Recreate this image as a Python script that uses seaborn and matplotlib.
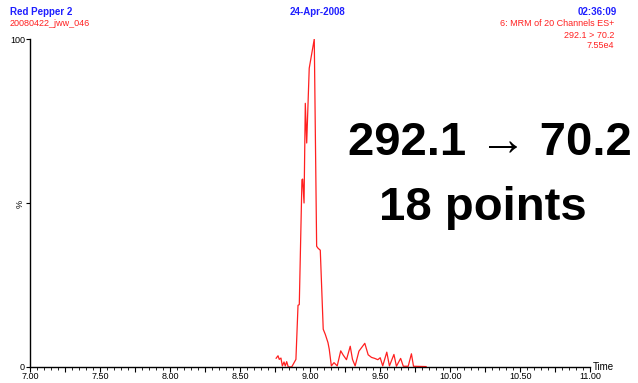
import numpy as np
import pandas as pd
import matplotlib
matplotlib.use("Agg")
import matplotlib.pyplot as plt
from matplotlib.ticker import MultipleLocator, FuncFormatter
import seaborn as sns

# retention time (min) and relative intensity (%)
time = [8.754, 8.768, 8.777, 8.789, 8.799, 8.811, 8.820, 8.830, 8.841, 8.866,
        8.896, 8.911, 8.920, 8.939, 8.944, 8.954, 8.963, 8.973, 8.991, 9.027,
        9.044, 9.054, 9.070, 9.091, 9.106, 9.125, 9.134, 9.149, 9.168, 9.191,
        9.216, 9.234, 9.257, 9.284, 9.300, 9.319, 9.346, 9.388, 9.412, 9.436,
        9.459, 9.481, 9.498, 9.516, 9.545, 9.564, 9.596, 9.614, 9.644, 9.663,
        9.698, 9.721, 9.736, 9.827]
intensity = [2.6, 3.4, 2.3, 2.7, 0.3, 1.5, 0.3, 1.6, 0.0, 0.0,
             2.3, 18.8, 19.0, 57.1, 57.3, 50.0, 80.4, 68.3, 91.1, 100.0,
             36.8, 36.2, 35.6, 11.5, 9.9, 7.4, 5.4, 0.3, 1.3, 0.3,
             4.9, 3.6, 2.2, 6.3, 2.3, 0.3, 4.8, 7.2, 3.7, 2.9,
             2.6, 2.2, 2.8, 0.3, 4.5, 0.3, 3.8, 0.2, 2.6, 0.2,
             0.2, 4.0, 0.2, 0.1]

y_ticks = [0, 50, 100]
y_labels = ["0", "%", "100"]

blue = "#1f1fff"
red = "#ff2020"

sns.set_style("ticks")
plt.rcParams["font.family"] = ["Liberation Sans", "DejaVu Sans"]
plt.rcParams["text.color"] = "black"
plt.rcParams["xtick.color"] = "black"
plt.rcParams["ytick.color"] = "black"
plt.rcParams["axes.edgecolor"] = "black"

df = pd.DataFrame({"Time": time, "Intensity": intensity})

fig = plt.figure(figsize=(6.38, 3.83), dpi=100)
ax = fig.add_axes([0.0478, 0.042, 0.8777, 0.856])
sns.lineplot(data=df, x="Time", y="Intensity", color=red, linewidth=0.9, ax=ax)

ax.set_xlim(7.0, 11.0)
ax.set_ylim(0, 100)
# long ticks every 0.25, labels every 0.5, short ticks every 0.05
ax.xaxis.set_major_locator(MultipleLocator(0.25))
ax.xaxis.set_major_formatter(FuncFormatter(lambda v, p: f"{v:.2f}" if abs(v * 2 - round(v * 2)) < 1e-6 else ""))
ax.xaxis.set_minor_locator(MultipleLocator(0.05))
ax.set_yticks(y_ticks)
ax.set_yticklabels(y_labels)
ax.get_yticklabels()[1].set_rotation(90)
ax.tick_params(axis="x", which="major", length=3.5, width=0.8, pad=0.5, labelsize=6.5)
ax.tick_params(axis="x", which="minor", length=2, width=0.6)
ax.tick_params(axis="y", length=3, width=0.8, pad=1, labelsize=6.5)
ax.set_xlabel("")
ax.set_ylabel("")
sns.despine(ax=ax)
ax.spines["left"].set_linewidth(1.0)
ax.spines["bottom"].set_linewidth(1.0)

# "Time" label at the end of the axis
ax.text(1.005, 0.0, "Time", transform=ax.transAxes, fontsize=7, ha="left", va="center")

# header texts
fig.text(10 / 638, 1 - 12 / 383, "Red Pepper 2", color=blue, fontsize=7, fontweight="bold", va="center")
fig.text(10 / 638, 1 - 24 / 383, "20080422_jww_046", color=red, fontsize=6.5, va="center")
fig.text(318 / 638, 1 - 12 / 383, "24-Apr-2008", color=blue, fontsize=7, fontweight="bold", ha="center", va="center")
fig.text(617 / 638, 1 - 12 / 383, "02:36:09", color=blue, fontsize=7, fontweight="bold", ha="right", va="center")
fig.text(614 / 638, 1 - 24 / 383, "6: MRM of 20 Channels ES+", color=red, fontsize=6.5, ha="right", va="center")
fig.text(614 / 638, 1 - 35 / 383, "292.1 > 70.2", color=red, fontsize=6.5, ha="right", va="center")
fig.text(614 / 638, 1 - 46 / 383, "7.55e4", color=red, fontsize=6.5, ha="right", va="center")

# big annotation
fig.text(490 / 638, 1 - 143 / 383, "292.1 \u2192 70.2", fontsize=34, fontweight="bold", color="black",
         ha="center", va="center")
fig.text(483 / 638, 1 - 208 / 383, "18 points", fontsize=34, fontweight="bold", color="black",
         ha="center", va="center")

fig.savefig("out.png", dpi=100)
